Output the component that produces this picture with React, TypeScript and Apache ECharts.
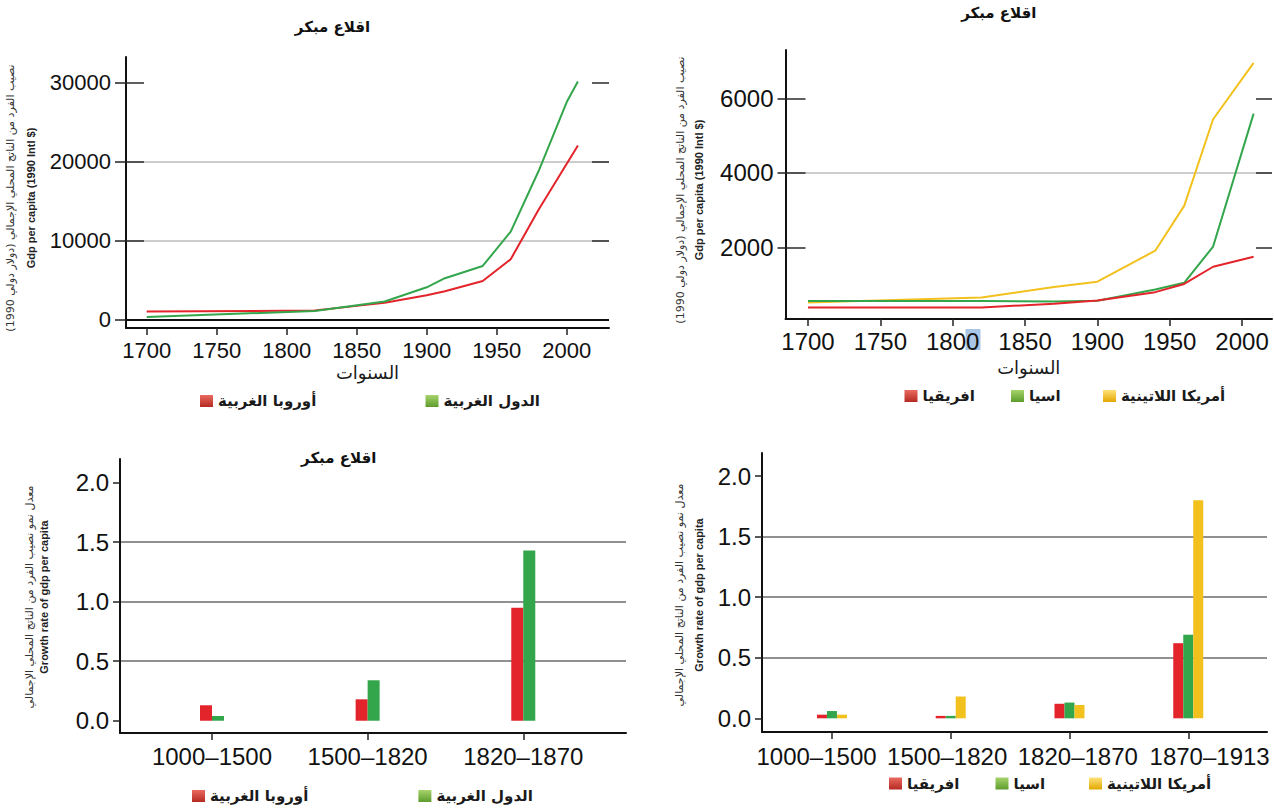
import { useEffect, useRef } from "react";
import * as echarts from "echarts";

// ---------- data ----------
const YEAR_TICKS = [1700, 1750, 1800, 1850, 1900, 1950, 2000];
const GDP_TICKS_WEST = [0, 10000, 20000, 30000];
const GDP_TICKS_REST = [2000, 4000, 6000];
const RATE_TICKS = [0, 0.5, 1, 1.5, 2];

const westEuropeYears = [1700, 1820, 1850, 1870, 1900, 1913, 1940, 1960, 1980, 2008];
const westEuropeGdp = [1000, 1100, 1700, 2100, 3050, 3550, 4850, 7600, 13900, 22000];
const offshootYears = [1700, 1820, 1870, 1900, 1913, 1940, 1960, 1980, 2000, 2008];
const offshootGdp = [300, 1050, 2250, 4050, 5200, 6750, 11100, 18800, 27500, 30100];

const africaYears = [1700, 1820, 1870, 1900, 1940, 1960, 1980, 2008];
const africaGdp = [400, 400, 500, 585, 810, 1030, 1490, 1760];
const asiaYears = [1700, 1820, 1870, 1900, 1940, 1960, 1980, 2008];
const asiaGdp = [575, 575, 560, 580, 880, 1060, 2030, 5590];
const latamYears = [1700, 1820, 1870, 1900, 1940, 1960, 1980, 2008];
const latamGdp = [530, 665, 950, 1090, 1920, 3120, 5440, 6950];

const periodsWest = ["1000–1500", "1500–1820", "1820–1870"];
const westEuropeRate = [0.13, 0.18, 0.95];
const offshootRate = [0.04, 0.34, 1.43];

const periodsRest = ["1000–1500", "1500–1820", "1820–1870", "1870–1913"];
const africaRate = [0.03, 0.02, 0.12, 0.62];
const asiaRate = [0.06, 0.02, 0.13, 0.69];
const latamRate = [0.03, 0.18, 0.11, 1.8];

const N_WEU = "أوروبا الغربية";
const N_WOFF = "الدول الغربية";
const N_AFR = "افريقيا";
const N_ASIA = "اسيا";
const N_LATAM = "أمريكا اللاتينية";
const TITLE = "اقلاع مبكر";
const X_NAME = "السنوات";
const Y_GDP_AR = "نصيب الفرد من الناتج المحلي الإجمالي (دولار دولي 1990)";
const Y_GDP_EN = "Gdp per capita (1990 Intl $)";
const Y_RATE_AR = "معدل نمو نصيب الفرد من الناتج المحلي الإجمالي";
const Y_RATE_EN = "Growth rate of gdp per capita";

// ---------- styles / layout ----------
const SANS = "'Liberation Sans', Arial, Helvetica, sans-serif";
const ARABIC = "'DejaVu Sans', sans-serif";
const RED = "#e3242b";
const GREEN = "#33a64b";
const YELLOW = "#f2c11d";
const AXIS = "#111111";
const LIGHT_GRID = "#bdbdbd";
const DARK_GRID = "#6b6b6b";
const BR_LABEL_SHIFT = [-0.13, -0.03, 0.07, 0.18];

const GRID_TL = { left: 126, top: 57, width: 483, height: 271 };
const GRID_TR = { left: 785.5, top: 50, width: 486.5, height: 269 };
const GRID_BL = { left: 120, top: 459, width: 506, height: 274 };
const GRID_BR = { left: 762, top: 453, width: 505, height: 279 };

const TL_X = [1685.2, 2030.2];
const TR_X = [1684.45, 2020.7];
const TL_Y = [-1101, 33203];
const TR_Y = [91, 7293];

const pairs = (xs: number[], ys: number[]) => xs.map((x, i) => [x, ys[i]]);
const idxPairs = (ys: number[]) => ys.map((y, i) => [i, y]);

const grad = (top: string, bottom: string) =>
  new echarts.graphic.LinearGradient(0, 0, 0, 1, [
    { offset: 0, color: top },
    { offset: 1, color: bottom },
  ]);

function xAxisDef(
  gridIndex: number,
  min: number,
  max: number,
  labelValues: number[],
  tickValues: number[],
  fmt: (v: number) => string,
  fontSize: number,
  margin: number,
  name?: string,
  nameGap?: number
) {
  return {
    type: "value",
    gridIndex,
    min,
    max,
    axisLine: { show: true, onZero: false, lineStyle: { color: AXIS, width: 2 } },
    axisTick: { show: true, customValues: tickValues, length: 7, lineStyle: { color: "#222", width: 1.5 } },
    axisLabel: { customValues: labelValues, formatter: fmt, fontSize, fontFamily: SANS, color: AXIS, margin },
    splitLine: { show: false },
    name: name || "",
    nameLocation: "middle",
    nameGap: nameGap || 0,
    nameMoveOverlap: false,
    nameTextStyle: { fontFamily: ARABIC, fontSize: 18, color: "#1a1a1a" },
  };
}

function xHidden(gridIndex: number, range: number[]) {
  return {
    type: "value",
    gridIndex,
    min: range[0],
    max: range[1],
    axisLine: { show: false, onZero: false },
    axisTick: { show: false },
    axisLabel: { show: false },
    splitLine: { show: false },
  };
}

function yMain(
  gridIndex: number,
  range: number[],
  step: number,
  ticks: number[],
  fmt: (v: number) => string,
  fontSize: number,
  tickLen: number,
  gridColor: string
) {
  return {
    type: "value",
    gridIndex,
    position: "left",
    min: range[0],
    max: range[1],
    minInterval: step,
    maxInterval: step,
    axisLine: { show: true, onZero: false, lineStyle: { color: AXIS, width: 2 } },
    axisTick: { show: true, customValues: ticks, length: tickLen, lineStyle: { color: "#222", width: 1.5 } },
    axisLabel: { customValues: ticks, formatter: fmt, fontSize, fontFamily: SANS, color: AXIS, margin: tickLen + 4 },
    splitLine: { show: true, showMinLine: false, showMaxLine: false, lineStyle: { color: gridColor, width: 1.5 } },
  };
}

// an axis of its own grid that only draws the dark inner ends of the grid lines
function yTicksOnly(gridIndex: number, range: number[], ticks: number[], position: string, len: number) {
  return {
    type: "value",
    gridIndex,
    position,
    min: range[0],
    max: range[1],
    axisLine: { show: false, onZero: false },
    axisTick: { show: true, inside: true, customValues: ticks, length: len, lineStyle: { color: "#2a2a2a", width: 1.5 } },
    axisLabel: { show: false },
    splitLine: { show: false },
  };
}

function legendAt(name: string, left: number, cy: number, top: string, bottom: string) {
  return {
    left,
    top: cy - 9,
    padding: 0,
    itemWidth: 13,
    itemHeight: 12,
    icon: "rect",
    selectedMode: false,
    data: [{ name, itemStyle: { color: grad(top, bottom) } }],
    textStyle: { fontFamily: ARABIC, fontSize: 15, fontWeight: "bold", color: "#1a1a1a" },
  };
}

function yTitle(x1: number, x2: number, cy: number, ar: string, en: string) {
  return [
    {
      type: "text",
      x: x1,
      y: cy,
      rotation: Math.PI / 2,
      style: { text: ar, fontFamily: ARABIC, fontSize: 11, fill: "#333", textAlign: "center", textVerticalAlign: "middle" },
    },
    {
      type: "text",
      x: x2,
      y: cy,
      rotation: Math.PI / 2,
      style: { text: en, fontFamily: SANS, fontWeight: "bold", fontSize: 11, fill: "#222", textAlign: "center", textVerticalAlign: "middle" },
    },
  ];
}

function titleAt(x: number, y: number) {
  return {
    type: "text",
    x,
    y,
    style: { text: TITLE, fontFamily: ARABIC, fontWeight: "bold", fontSize: 15, fill: "#111", textAlign: "center", textVerticalAlign: "middle" },
  };
}

export default function App() {
  const ref = useRef<HTMLDivElement>(null);

  useEffect(() => {
    if (!ref.current) return;
    const chart = echarts.init(ref.current, undefined, { renderer: "svg" });

    const yearFmt = (v: number) => String(Math.round(v));
    const numFmt = (v: number) => String(v);
    const rateFmt = (v: number) => v.toFixed(1);

    const lineBase = { type: "line", showSymbol: false, symbol: "none", smooth: false };

    const option: any = {
      animation: false,
      backgroundColor: "#ffffff",
      grid: [
        { ...GRID_TL, outerBoundsMode: "none" },
        { ...GRID_TR, outerBoundsMode: "none" },
        { ...GRID_BL, outerBoundsMode: "none" },
        { ...GRID_BR, outerBoundsMode: "none" },
        { ...GRID_TL, outerBoundsMode: "none" },
        { ...GRID_TL, outerBoundsMode: "none" },
        { ...GRID_TR, outerBoundsMode: "none" },
        { ...GRID_TR, outerBoundsMode: "none" },
      ],
      xAxis: [
        xAxisDef(0, TL_X[0], TL_X[1], YEAR_TICKS, YEAR_TICKS, yearFmt, 22, 11, X_NAME, 35),
        xAxisDef(1, TR_X[0], TR_X[1], YEAR_TICKS, YEAR_TICKS, yearFmt, 24, 10, X_NAME, 39),
        xAxisDef(2, -0.591, 2.66, periodsWest.map((_, i) => i), periodsWest.map((_, i) => i),
          (v: number) => periodsWest[Math.round(v)] || "", 24, 11),
        xAxisDef(3, -0.589, 3.663, periodsRest.map((_, i) => i + BR_LABEL_SHIFT[i]), periodsRest.map((_, i) => i),
          (v: number) => periodsRest[Math.round(v)] || "", 24, 12),
        xHidden(4, TL_X),
        xHidden(5, TL_X),
        xHidden(6, TR_X),
        xHidden(7, TR_X),
      ],
      yAxis: [
        yMain(0, TL_Y, 10000, GDP_TICKS_WEST, numFmt, 22, 11, LIGHT_GRID),
        yMain(1, TR_Y, 2000, GDP_TICKS_REST, numFmt, 24, 8, LIGHT_GRID),
        yMain(2, [-0.103, 2.199], 0.5, RATE_TICKS, rateFmt, 24, 7, DARK_GRID),
        yMain(3, [-0.113, 2.19], 0.5, RATE_TICKS, rateFmt, 24, 7, DARK_GRID),
        yTicksOnly(4, TL_Y, GDP_TICKS_WEST, "left", 18),
        yTicksOnly(5, TL_Y, GDP_TICKS_WEST, "right", 17),
        yTicksOnly(6, TR_Y, GDP_TICKS_REST, "left", 20),
        yTicksOnly(7, TR_Y, GDP_TICKS_REST, "right", 16),
      ],
      legend: [
        legendAt(N_WEU, 200, 402.5, "#ea6a60", "#b52a22"),
        legendAt(N_WOFF, 425.5, 402.5, "#a6d36c", "#5d9c2c"),
        legendAt(N_AFR, 904.5, 397.5, "#ea6a60", "#b52a22"),
        legendAt(N_ASIA, 1011, 397.5, "#a6d36c", "#5d9c2c"),
        legendAt(N_LATAM, 1103, 397.5, "#ffe27a", "#e2a800"),
        legendAt(N_WEU, 192, 797.5, "#ea6a60", "#b52a22"),
        legendAt(N_WOFF, 418.4, 797.5, "#a6d36c", "#5d9c2c"),
        legendAt(N_AFR, 889, 785, "#ea6a60", "#b52a22"),
        legendAt(N_ASIA, 995.5, 785, "#a6d36c", "#5d9c2c"),
        legendAt(N_LATAM, 1089, 785, "#ffe27a", "#e2a800"),
      ],
      series: [
        {
          ...lineBase,
          name: N_WEU,
          xAxisIndex: 0,
          yAxisIndex: 0,
          data: pairs(westEuropeYears, westEuropeGdp),
          lineStyle: { color: RED, width: 2 },
          itemStyle: { color: RED },
          markLine: {
            silent: true,
            symbol: "none",
            label: { show: false },
            lineStyle: { color: AXIS, width: 2, type: "solid" },
            data: [{ yAxis: 0 }],
          },
        },
        {
          ...lineBase,
          name: N_WOFF,
          xAxisIndex: 0,
          yAxisIndex: 0,
          data: pairs(offshootYears, offshootGdp),
          lineStyle: { color: GREEN, width: 2 },
          itemStyle: { color: GREEN },
        },
        {
          ...lineBase,
          name: N_LATAM,
          xAxisIndex: 1,
          yAxisIndex: 1,
          data: pairs(latamYears, latamGdp),
          lineStyle: { color: YELLOW, width: 2 },
          itemStyle: { color: YELLOW },
        },
        {
          ...lineBase,
          name: N_ASIA,
          xAxisIndex: 1,
          yAxisIndex: 1,
          data: pairs(asiaYears, asiaGdp),
          lineStyle: { color: GREEN, width: 2 },
          itemStyle: { color: GREEN },
        },
        {
          ...lineBase,
          name: N_AFR,
          xAxisIndex: 1,
          yAxisIndex: 1,
          data: pairs(africaYears, africaGdp),
          lineStyle: { color: RED, width: 2 },
          itemStyle: { color: RED },
        },
        {
          type: "bar",
          name: N_WEU,
          xAxisIndex: 2,
          yAxisIndex: 2,
          data: idxPairs(westEuropeRate),
          barWidth: 12,
          barGap: "0%",
          itemStyle: { color: RED },
        },
        {
          type: "bar",
          name: N_WOFF,
          xAxisIndex: 2,
          yAxisIndex: 2,
          data: idxPairs(offshootRate),
          barWidth: 12,
          barGap: "0%",
          itemStyle: { color: GREEN },
        },
        {
          type: "bar",
          name: N_AFR,
          xAxisIndex: 3,
          yAxisIndex: 3,
          data: idxPairs(africaRate),
          barWidth: 10,
          barGap: "0%",
          itemStyle: { color: RED },
        },
        {
          type: "bar",
          name: N_ASIA,
          xAxisIndex: 3,
          yAxisIndex: 3,
          data: idxPairs(asiaRate),
          barWidth: 10,
          barGap: "0%",
          itemStyle: { color: GREEN },
        },
        {
          type: "bar",
          name: N_LATAM,
          xAxisIndex: 3,
          yAxisIndex: 3,
          data: idxPairs(latamRate),
          barWidth: 10,
          barGap: "0%",
          itemStyle: { color: YELLOW },
        },
      ],
      graphic: [
        titleAt(332.5, 26.7),
        titleAt(998.8, 13.3),
        titleAt(338.7, 458.3),
        ...yTitle(10.5, 30.5, 198, Y_GDP_AR, Y_GDP_EN),
        ...yTitle(680, 699, 190, Y_GDP_AR, Y_GDP_EN),
        ...yTitle(29, 44, 597, Y_RATE_AR, Y_RATE_EN),
        ...yTitle(679, 699, 595, Y_RATE_AR, Y_RATE_EN),
        {
          type: "rect",
          z: -1,
          shape: { x: 965.5, y: 329, width: 15, height: 21 },
          style: { fill: "#a9c6e6" },
        },
      ],
    };

    chart.setOption(option);
    return () => chart.dispose();
  }, []);

  return (
    <div
      ref={ref}
      style={{ position: "absolute", left: 0, top: 0, width: 1274, height: 809, background: "#fff" }}
    />
  );
}
